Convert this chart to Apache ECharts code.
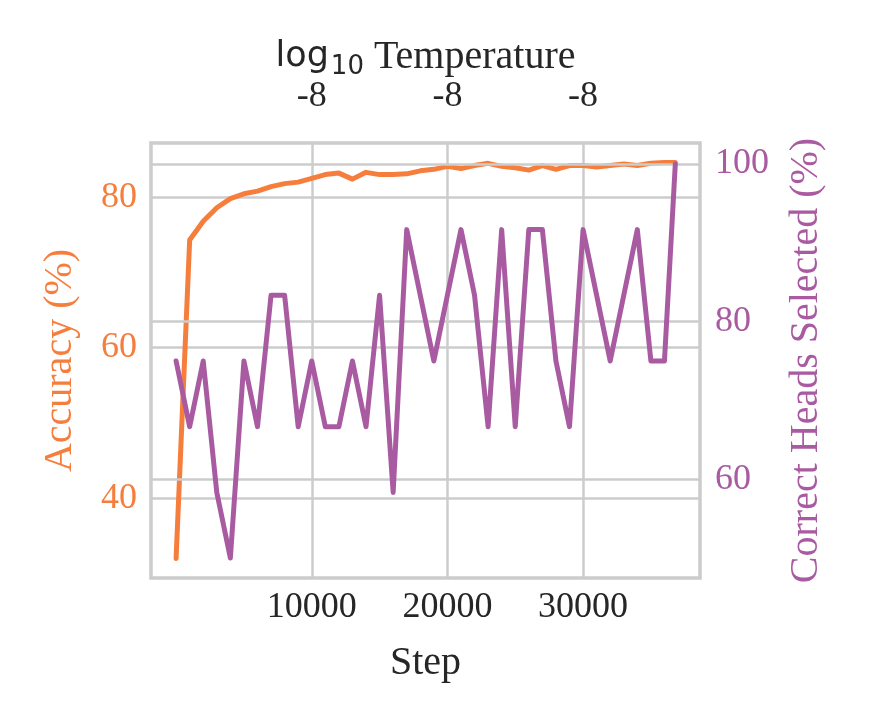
<!DOCTYPE html>
<html>
<head>
<meta charset="utf-8">
<script src="https://cdn.jsdelivr.net/npm/echarts@6/dist/echarts.min.js"></script>
<style>
  html, body { margin: 0; padding: 0; background: #fff; }
  #main { width: 872px; height: 727px; }
</style>
</head>
<body>
<div id="main"></div>
<script>
// training steps (x)
const steps = [0, 1000, 2000, 3000, 4000, 5000, 6000, 7000, 8000, 9000,
  10000, 11000, 12000, 13000, 14000, 15000, 16000, 17000, 18000, 19000,
  20000, 21000, 22000, 23000, 24000, 25000, 26000, 27000, 28000, 29000,
  30000, 31000, 32000, 33000, 34000, 35000, 36000, 36800];

// accuracy (%), left axis
const accuracy = [32.0, 74.3, 76.8, 78.6, 79.8, 80.45, 80.8, 81.4, 81.8, 82.0,
  82.5, 83.0, 83.2, 82.4, 83.3, 83.0, 83.0, 83.1, 83.5, 83.7,
  84.1, 83.8, 84.2, 84.5, 84.1, 83.9, 83.6, 84.2, 83.7, 84.2,
  84.2, 84.0, 84.2, 84.4, 84.2, 84.5, 84.6, 84.6];

// correct heads selected (%), right axis
const heads = [75, 66.67, 75, 58.33, 50, 75, 66.67, 83.33, 83.33, 66.67,
  75, 66.67, 66.67, 75, 66.67, 83.33, 58.33, 91.67, 83.33, 75,
  83.33, 91.67, 83.33, 66.67, 91.67, 66.67, 91.67, 91.67, 75, 66.67,
  91.67, 83.33, 75, 83.33, 91.67, 75, 75, 100];

const stepTicks = [10000, 20000, 30000];
const tempTickLabels = ['-8', '-8', '-8'];
const accTicks = [40, 60, 80];
const headTicks = [60, 80, 100];

const ORANGE = '#F67E3C';
const PURPLE = '#A95BA2';
const GRID = '#cccccc';
const TEXT = '#262626';
const SERIF = 'Liberation Serif';

const chart = echarts.init(document.getElementById('main'));

const option = {
  backgroundColor: '#fff',
  animation: false,
  grid: {
    left: 151, right: 172, top: 143, bottom: 149,
    show: true, borderColor: GRID, borderWidth: 3.5,
    containLabel: false,
    outerBoundsMode: 'none'
  },
  xAxis: [
    {
      type: 'value', position: 'bottom',
      min: -1850, max: 38620,
      axisLine: { show: false },
      axisTick: { show: false, customValues: stepTicks },
      axisLabel: {
        customValues: stepTicks,
        formatter: (v) => String(v),
        fontFamily: SERIF, fontSize: 36, color: TEXT, margin: 12
      },
      splitLine: { show: true, lineStyle: { color: GRID, width: 2.5 } },
      name: 'Step', nameLocation: 'middle', nameGap: 65,
      nameTextStyle: { fontFamily: SERIF, fontSize: 40, color: TEXT }
    },
    {
      type: 'value', position: 'top',
      min: -1850, max: 38620,
      axisLine: { show: false },
      axisTick: { show: false, customValues: stepTicks },
      axisLabel: {
        customValues: stepTicks,
        formatter: function (v) {
          return tempTickLabels[stepTicks.indexOf(v)] || '';
        },
        fontFamily: SERIF, fontSize: 36, color: TEXT, margin: 28
      },
      splitLine: { show: false },
      name: '{lg|log}{sub|10} Temperature', nameLocation: 'middle', nameGap: 63,
      nameMoveOverlap: false,
      nameTextStyle: {
        fontFamily: SERIF, fontSize: 40, color: TEXT,
        rich: {
          lg: { fontFamily: 'DejaVu Sans', fontSize: 35, color: TEXT },
          sub: { fontFamily: 'DejaVu Sans', fontSize: 26, color: TEXT, padding: [20, 0, 0, 2] }
        }
      }
    }
  ],
  yAxis: [
    {
      type: 'value', position: 'left', z: 0,
      min: 29.4, max: 87.2,
      axisLine: { show: false },
      axisTick: { show: false, customValues: accTicks },
      axisLabel: {
        customValues: accTicks,
        fontFamily: SERIF, fontSize: 36, color: ORANGE, margin: 14
      },
      splitLine: { show: true, lineStyle: { color: GRID, width: 2.5 } },
      name: 'Accuracy (%)', nameLocation: 'middle', nameRotate: 90, nameGap: 71,
      nameTextStyle: { fontFamily: SERIF, fontSize: 40, color: ORANGE }
    },
    {
      type: 'value', position: 'right', z: 1.5,
      min: 47.47, max: 102.66,
      axisLine: { show: false },
      axisTick: { show: false, customValues: headTicks },
      axisLabel: {
        customValues: headTicks,
        fontFamily: SERIF, fontSize: 36, color: PURPLE, margin: 15
      },
      splitLine: { show: true, lineStyle: { color: GRID, width: 2.5 } },
      name: 'Correct Heads Selected (%)', nameLocation: 'middle', nameRotate: 90, nameGap: 86,
      nameTextStyle: { fontFamily: SERIF, fontSize: 40, color: PURPLE }
    }
  ],
  series: [
    {
      name: 'Accuracy', type: 'line', z: 1,
      xAxisIndex: 0, yAxisIndex: 0,
      data: steps.map((s, i) => [s, accuracy[i]]),
      showSymbol: false, symbol: 'none',
      lineStyle: { color: ORANGE, width: 5, cap: 'round', join: 'round' },
      itemStyle: { color: ORANGE }
    },
    {
      name: 'Correct Heads', type: 'line', z: 3,
      xAxisIndex: 0, yAxisIndex: 1,
      data: steps.map((s, i) => [s, heads[i]]),
      showSymbol: false, symbol: 'none',
      lineStyle: { color: PURPLE, width: 5, cap: 'round', join: 'round' },
      itemStyle: { color: PURPLE }
    }
  ]
};

chart.setOption(option);
</script>
</body>
</html>
